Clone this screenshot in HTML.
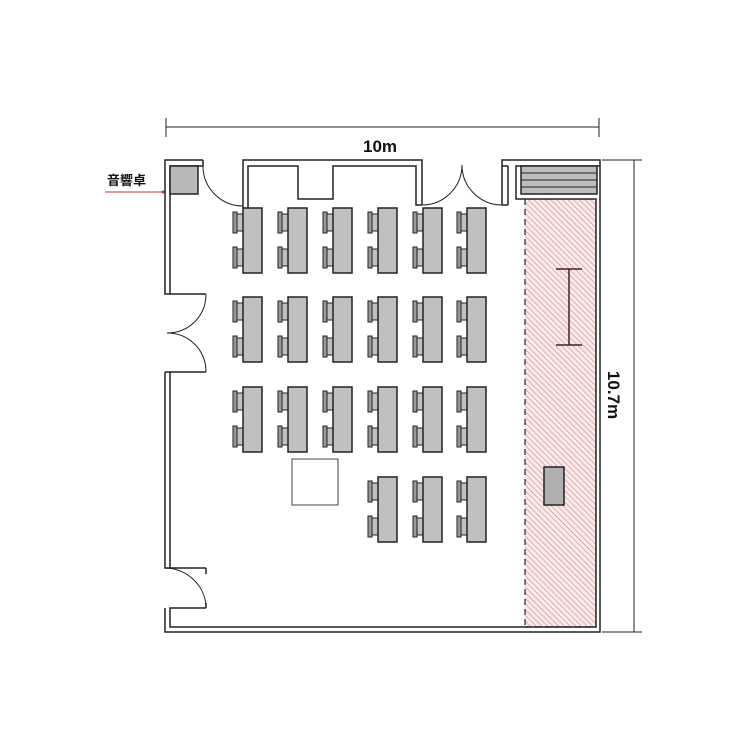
<!DOCTYPE html>
<html><head><meta charset="utf-8"><style>body{margin:0;background:#fff}svg{display:block}</style></head><body>
<svg width="750" height="750" viewBox="0 0 750 750" xmlns="http://www.w3.org/2000/svg">
<defs>
<pattern id="h" patternUnits="userSpaceOnUse" width="4" height="4" patternTransform="rotate(-45)">
<rect width="4" height="4" fill="#fbeaea"/><line x1="0" y1="0" x2="0" y2="4" stroke="#c98a8a" stroke-width="1.2"/>
</pattern>
<g id="ch"><rect x="0" y="0" width="4" height="21" fill="#9a9a9a" stroke="#222" stroke-width="1"/><rect x="4" y="2" width="6" height="17" fill="#c0c0c0" stroke="#222" stroke-width="1"/></g>
<g id="d"><use href="#ch" x="-10" y="4"/><use href="#ch" x="-10" y="39"/><rect x="0" y="0" width="19" height="65" fill="#c0c0c0" stroke="#222" stroke-width="1.5"/></g>
</defs>
<g fill="none" stroke="#222" stroke-width="1.5">
<line x1="166" y1="127" x2="599" y2="127" stroke-width="1"/>
<line x1="166" y1="118" x2="166" y2="137" stroke-width="1"/>
<line x1="599" y1="118" x2="599" y2="137" stroke-width="1"/>
<line x1="634" y1="160" x2="634" y2="632" stroke-width="1"/>
<line x1="602" y1="160" x2="642" y2="160" stroke-width="1"/>
<line x1="602" y1="632" x2="642" y2="632" stroke-width="1"/>
</g>
<text x="380" y="152" font-family="Liberation Sans, sans-serif" font-weight="bold" font-size="17" text-anchor="middle" fill="#111">10m</text>
<text transform="translate(608,395) rotate(90)" font-family="Liberation Sans, sans-serif" font-weight="bold" font-size="17" text-anchor="middle" fill="#111">10.7m</text>
<text x="107" y="185" font-family="Liberation Sans, 'Noto Sans CJK JP', sans-serif" font-weight="bold" font-size="13" fill="#111">音響卓</text>
<line x1="105" y1="192" x2="166" y2="192" stroke="#d03030" stroke-width="1"/>
<circle cx="163" cy="192" r="1.5" fill="#d03030"/>
<rect x="525" y="199" width="71" height="428" fill="url(#h)"/>
<line x1="525" y1="199" x2="525" y2="627" stroke="#222" stroke-width="1.2" stroke-dasharray="6,4"/>
<line x1="525" y1="627" x2="596" y2="627" stroke="#222" stroke-width="1.2" stroke-dasharray="6,4"/>
<g fill="none" stroke="#222" stroke-width="1.5">
<polyline points="203,160 165,160 165,294 206,294"/>
<polyline points="170,294 170,166 203,166"/>
<line x1="203" y1="160" x2="203" y2="166"/>
<polyline points="165,372 206,372"/>
<polyline points="165,372 165,568 206,568"/>
<polyline points="170,372 170,568"/>
<polyline points="165,608 165,632 600,632 600,160 502,160 502,205"/>
<polyline points="206,608 170,608 170,627 596,627 596,199 516,199 516,166 600,166"/>
<line x1="206" y1="568" x2="206" y2="574"/>
<line x1="206" y1="608" x2="206" y2="603"/>
<polyline points="243,208 243,160 422,160 422,205"/>
<polyline points="248,208 248,166 298,166 298,199 333,199 333,166 416,166 416,205 422,205"/>
<line x1="502" y1="166" x2="508" y2="166"/><line x1="508" y1="166" x2="508" y2="205"/><line x1="502" y1="205" x2="508" y2="205"/>
<path d="M203,166 C203,188 221,206 243,206" stroke-width="1"/>
<path d="M422,205 C444,205 462,187 462,165" stroke-width="1"/>
<path d="M502,205 C480,205 462,187 462,165" stroke-width="1"/>
<path d="M206,294 C206,316 189,333 167,333" stroke-width="1"/>
<path d="M206,372 C206,350 189,333 167,333" stroke-width="1"/>
<path d="M165,568 C187,568 206,586 206,608" stroke-width="1"/>
</g>
<rect x="170" y="166" width="28" height="28" fill="#b8b8b8" stroke="#222" stroke-width="1.5"/>
<rect x="521" y="166" width="76" height="28" fill="#bdbdbd" stroke="#222" stroke-width="1.5"/>
<g stroke="#222" stroke-width="1"><line x1="521" y1="173" x2="597" y2="173"/><line x1="521" y1="180" x2="597" y2="180"/><line x1="521" y1="187" x2="597" y2="187"/></g>
<g stroke="#4a2020" stroke-width="1.5"><line x1="569" y1="269" x2="569" y2="345"/><line x1="556" y1="269" x2="582" y2="269"/><line x1="556" y1="345" x2="582" y2="345"/></g>
<rect x="544" y="467" width="20" height="38" fill="#b0b0b0" stroke="#222" stroke-width="1.5"/>
<rect x="292" y="459" width="46" height="46" fill="#fff" stroke="#444" stroke-width="1"/>
<g>
<use href="#d" x="243" y="208"/><use href="#d" x="288" y="208"/><use href="#d" x="333" y="208"/><use href="#d" x="378" y="208"/><use href="#d" x="423" y="208"/><use href="#d" x="467" y="208"/>
<use href="#d" x="243" y="297"/><use href="#d" x="288" y="297"/><use href="#d" x="333" y="297"/><use href="#d" x="378" y="297"/><use href="#d" x="423" y="297"/><use href="#d" x="467" y="297"/>
<use href="#d" x="243" y="387"/><use href="#d" x="288" y="387"/><use href="#d" x="333" y="387"/><use href="#d" x="378" y="387"/><use href="#d" x="423" y="387"/><use href="#d" x="467" y="387"/>
<use href="#d" x="378" y="477"/><use href="#d" x="423" y="477"/><use href="#d" x="467" y="477"/>
</g>
</svg>
</body></html>
